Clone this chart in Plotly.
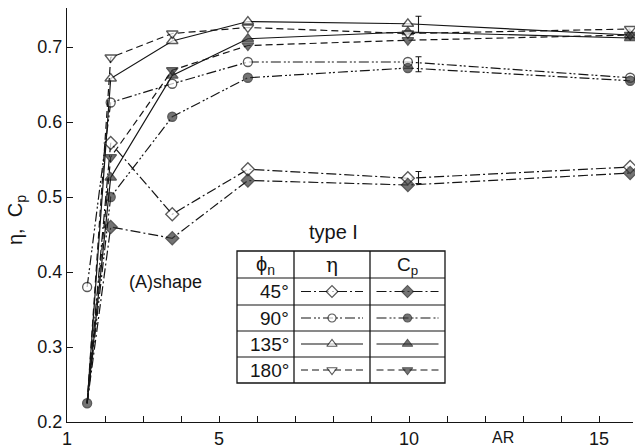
import plotly.graph_objects as go

# ---- data ----
AR = [1.53, 2.15, 3.77, 5.76, 9.97, 15.82]
eta45 = [0.225, 0.572, 0.477, 0.537, 0.525, 0.540]
cp45 = [0.225, 0.460, 0.445, 0.522, 0.516, 0.532]
eta90 = [0.380, 0.626, 0.651, 0.680, 0.680, 0.659]
cp90 = [0.225, 0.500, 0.607, 0.659, 0.672, 0.655]
eta135 = [0.225, 0.658, 0.708, 0.734, 0.731, 0.716]
cp135 = [0.225, 0.526, 0.662, 0.711, 0.720, 0.712]
eta180 = [0.225, 0.686, 0.718, 0.726, 0.718, 0.724]
cp180 = [0.225, 0.553, 0.669, 0.702, 0.709, 0.716]

err_AR = [10.25, 10.25, 10.25]
err_mid = [0.730, 0.677, 0.526]
err_half = [0.011, 0.010, 0.008]

phi_labels = ["45°", "90°", "135°", "180°"]
x_ticks = [1, 5, 10, 15]
x_ticklabels = ["1", "5", "10", "15"]
y_ticks = [0.2, 0.3, 0.4, 0.5, 0.6, 0.7]

FONT = "Liberation Sans"
INK = "#151515"
FILL = "#3a3a3a"

dash45 = "10px,3px,2px,3px"
dash90 = "10px,3px,2px,2px,2px,3px"
dash135 = "solid"
dash180 = "7px,4px"

# (values, symbol, fill, dash, size, show first marker)
styles = [
    (eta45, "diamond", "white", dash45, 10, False),
    (cp45, "diamond", FILL, dash45, 10, False),
    (eta90, "circle", "white", dash90, 9, True),
    (cp90, "circle", FILL, dash90, 9, True),
    (eta135, "triangle-up", "white", dash135, 10, False),
    (cp135, "triangle-up", FILL, dash135, 10, False),
    (eta180, "triangle-down", "white", dash180, 10, False),
    (cp180, "triangle-down", FILL, dash180, 10, False),
]

fig = go.Figure()
for ys, sym, fc, dash, sz, first in styles:
    sizes = [sz if (k > 0 or first) else 0 for k in range(len(ys))]
    fig.add_trace(go.Scatter(
        x=AR, y=ys, mode="lines+markers", cliponaxis=False,
        line=dict(color=INK, width=1.2, dash=dash),
        marker=dict(symbol=sym, size=sizes, color=fc, line=dict(color=INK, width=1.3)),
        showlegend=False,
    ))

fig.add_trace(go.Scatter(
    x=err_AR, y=err_mid, mode="markers",
    marker=dict(size=1, color="rgba(0,0,0,0)"),
    error_y=dict(type="data", array=err_half, color=INK, thickness=1.1, width=3),
    showlegend=False,
))

# ---- legend table (pixel-unit overlay axes) ----
tx0, tx1, tx2, tx3 = 237, 294, 370, 445
rows = [251, 278, 305, 331, 357, 383]
shapes = []
shapes.append(dict(type="rect", xref="x2", yref="y2", x0=tx0, x1=tx3, y0=rows[0], y1=rows[-1],
                   line=dict(color=INK, width=1.3)))
for xv in (tx1, tx2):
    shapes.append(dict(type="line", xref="x2", yref="y2", x0=xv, x1=xv, y0=rows[0], y1=rows[-1],
                       line=dict(color=INK, width=1.3)))
for yv in rows[1:-1]:
    shapes.append(dict(type="line", xref="x2", yref="y2", x0=tx0, x1=tx3, y0=yv, y1=yv,
                       line=dict(color=INK, width=1.1)))

annotations = []
annotations.append(dict(xref="x2", yref="y2", x=(tx0 + tx1) / 2, y=(rows[0] + rows[1]) / 2 + 1,
                        text="ϕ<sub>n</sub>", showarrow=False, font=dict(family=FONT, size=20, color=INK)))
annotations.append(dict(xref="x2", yref="y2", x=(tx1 + tx2) / 2, y=(rows[0] + rows[1]) / 2,
                        text="η", showarrow=False, font=dict(family="DejaVu Serif", size=20, color=INK)))
annotations.append(dict(xref="x2", yref="y2", x=(tx2 + tx3) / 2, y=(rows[0] + rows[1]) / 2 + 1,
                        text="C<sub>p</sub>", showarrow=False, font=dict(family=FONT, size=19, color=INK)))
for i, lab in enumerate(phi_labels):
    yc = (rows[i + 1] + rows[i + 2]) / 2
    annotations.append(dict(xref="x2", yref="y2", x=tx1 - 3, y=yc, xanchor="right",
                            text=lab, showarrow=False, font=dict(family=FONT, size=19, color=INK)))
    for j, xc in enumerate(((tx1 + tx2) / 2, (tx2 + tx3) / 2)):
        _, sym, fc, dash, sz, _f = styles[2 * i + j]
        fig.add_trace(go.Scatter(
            x=[xc - 31, xc, xc + 31], y=[yc, yc, yc], xaxis="x2", yaxis="y2",
            mode="lines+markers", cliponaxis=False,
            line=dict(color=INK, width=1.1, dash=dash),
            marker=dict(symbol=sym, size=[0, sz - 1, 0], color=fc, line=dict(color=INK, width=1.2)),
            showlegend=False,
        ))

annotations.append(dict(xref="x2", yref="y2", x=333, y=232, text="type I", showarrow=False,
                        font=dict(family=FONT, size=20, color=INK)))
annotations.append(dict(xref="x2", yref="y2", x=165, y=282, text="(A)shape", showarrow=False,
                        font=dict(family=FONT, size=18, color=INK)))
annotations.append(dict(xref="paper", yref="paper", x=(503 - 67) / 566, y=(422 - 437) / 414,
                        xanchor="center", yanchor="middle",
                        text="AR", showarrow=False, font=dict(family=FONT, size=16, color=INK)))
annotations.append(dict(xref="paper", yref="paper", x=(16 - 67) / 566, y=(422 - 220) / 414,
                        xanchor="center", yanchor="middle",
                        text="η,  C<sub>p</sub>", textangle=-90, showarrow=False,
                        font=dict(family=FONT, size=20, color=INK)))

fig.update_layout(
    width=635, height=448,
    margin=dict(l=67, r=2, t=8, b=26, autoexpand=False),
    paper_bgcolor="white", plot_bgcolor="white",
    font=dict(family=FONT, size=17, color=INK),
    xaxis=dict(range=[1, 1 + 566 / 38], showgrid=False, zeroline=False, automargin=False,
               showline=True, linecolor=INK, linewidth=1.2,
               ticks="inside", ticklen=6, tickcolor=INK, tickwidth=1.1,
               tickvals=x_ticks, ticktext=x_ticklabels,
               minor=dict(dtick=1, tick0=1, ticks="inside", ticklen=6, tickcolor=INK,
                          tickwidth=1.1, showgrid=False),
               tickfont=dict(family=FONT, size=18, color=INK)),
    yaxis=dict(range=[0.2, 0.2 + 414 / 750], showgrid=False, zeroline=False, automargin=False,
               showline=True, linecolor=INK, linewidth=1.2,
               ticks="inside", ticklen=6, tickcolor=INK, tickwidth=1.1,
               tickvals=y_ticks, ticktext=[f"{v:.1f}" for v in y_ticks],
               tickfont=dict(family=FONT, size=18, color=INK)),
    xaxis2=dict(overlaying="x", anchor="y2", range=[67, 633], visible=False),
    yaxis2=dict(overlaying="y", anchor="x2", range=[422, 8], visible=False),
    shapes=shapes,
    annotations=annotations,
)

fig.write_html("out.html", config={"displayModeBar": False},
               post_script="document.body.style.margin='0px';")
